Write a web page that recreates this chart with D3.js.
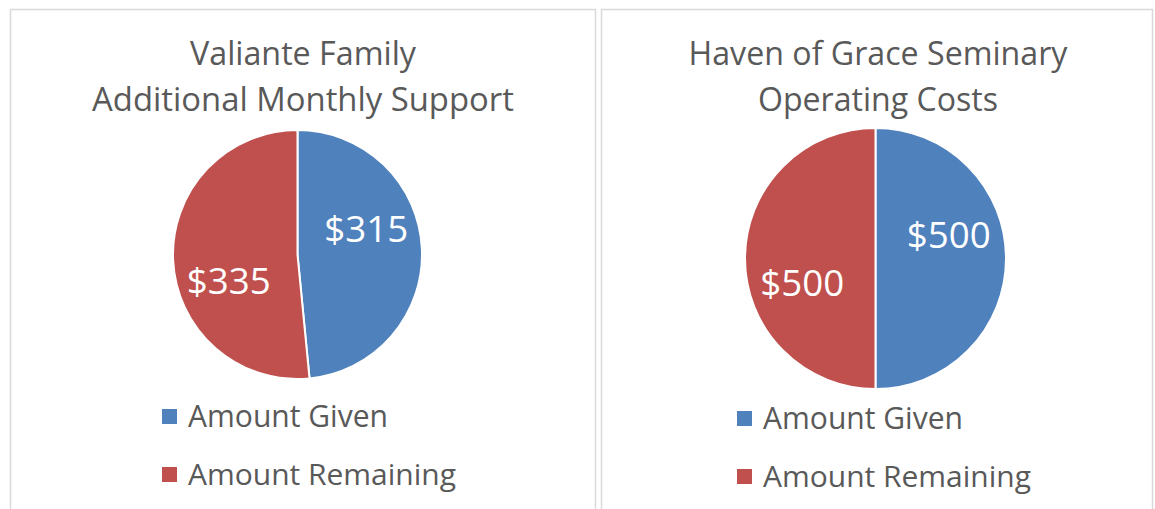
<!DOCTYPE html>
<html>
<head>
<meta charset="utf-8">
<script src="https://cdn.jsdelivr.net/npm/d3@7/dist/d3.min.js"></script>
<style>
    body { margin: 0; background: #fff; }
    text { font-family: 'Open Sans', 'Noto Sans', sans-serif; fill: #595959; }
</style>
</head>
<body>
<svg id="chart" width="1155" height="509"></svg>
<script>
// Data
const chartTitles = [
    ['Valiante Family', 'Additional Monthly Support'],
    ['Haven of Grace Seminary', 'Operating Costs']
];
const categories = ['Amount Given', 'Amount Remaining'];
const valianteValues = [315, 335];
const havenValues = [500, 500];
const seriesColors = ['#4F81BD', '#C0504D'];

// Layout for the two chart panels
const panels = [
    { values: valianteValues, title: chartTitles[0],
      x0: 10, x1: 595, cx: 297.5, cy: 254.5, r: 124.5,
      titleX: 303, titleY: [65, 111], titleW: [226, 422],
      legendX: 162, legendY: [416.5, 474.5] },
    { values: havenValues, title: chartTitles[1],
      x0: 601, x1: 1152, cx: 875.5, cy: 258.5, r: 130.5,
      titleX: 878, titleY: [65, 111], titleW: [379, 240],
      legendX: 737, legendY: [418.5, 476.5] }
];

const svg = d3.select('#chart');

// scale font so the rendered text matches a target width (Calibri substitute)
function fitWidth(sel, target) {
    const w = sel.node().getComputedTextLength();
    const fs = parseFloat(sel.attr('font-size'));
    sel.attr('font-size', (fs * target / w).toFixed(2));
}

const pie = d3.pie().sort(null).value(d => d);
const labelShift = 18 * Math.PI / 180;

panels.forEach(p => {
    // panel frame (runs off the bottom of the picture)
    svg.append('rect')
        .attr('x', p.x0 + 0.5).attr('y', 9.5)
        .attr('width', p.x1 - p.x0).attr('height', 540)
        .attr('fill', '#fff').attr('stroke', '#d9d9d9').attr('stroke-width', 1.5);

    // Title
    p.title.forEach((line, i) => {
        const t = svg.append('text')
            .attr('x', p.titleX).attr('y', p.titleY[i])
            .attr('text-anchor', 'middle')
            .attr('font-size', 30)
            .text(line);
        fitWidth(t, p.titleW[i]);
    });

    // Pie
    const g = svg.append('g').attr('transform', `translate(${p.cx},${p.cy})`);
    const arcs = pie(p.values);
    const arc = d3.arc().innerRadius(0).outerRadius(p.r);

    g.selectAll('path')
        .data(arcs)
        .enter().append('path')
        .attr('d', arc)
        .attr('fill', (d, i) => seriesColors[i])
        .attr('stroke', '#fff')
        .attr('stroke-width', 2);

    g.selectAll('.lbl')
        .data(arcs)
        .enter().append('text')
        .attr('class', 'lbl')
        .each(function(d) {
            const a = (d.startAngle + d.endAngle) / 2 - labelShift;
            const [x, y] = d3.pointRadial(a, p.r * 0.59);
            const t = d3.select(this)
                .attr('x', x).attr('y', y)
                .attr('dy', '0.36em')
                .attr('text-anchor', 'middle')
                .attr('font-size', 36)
                .style('fill', '#fff')
                .text('$' + d.data);
            fitWidth(t, 84);
        });

    // Legend
    categories.forEach((c, i) => {
        const y = p.legendY[i];
        svg.append('rect')
            .attr('x', p.legendX).attr('y', y - 7.5)
            .attr('width', 15).attr('height', 15)
            .attr('fill', seriesColors[i]);
        const t = svg.append('text')
            .attr('x', p.legendX + 26).attr('y', y)
            .attr('dy', '0.36em')
            .attr('font-size', 28)
            .text(c);
        fitWidth(t, i === 0 ? 200 : 268);
    });
});
</script>
</body>
</html>
